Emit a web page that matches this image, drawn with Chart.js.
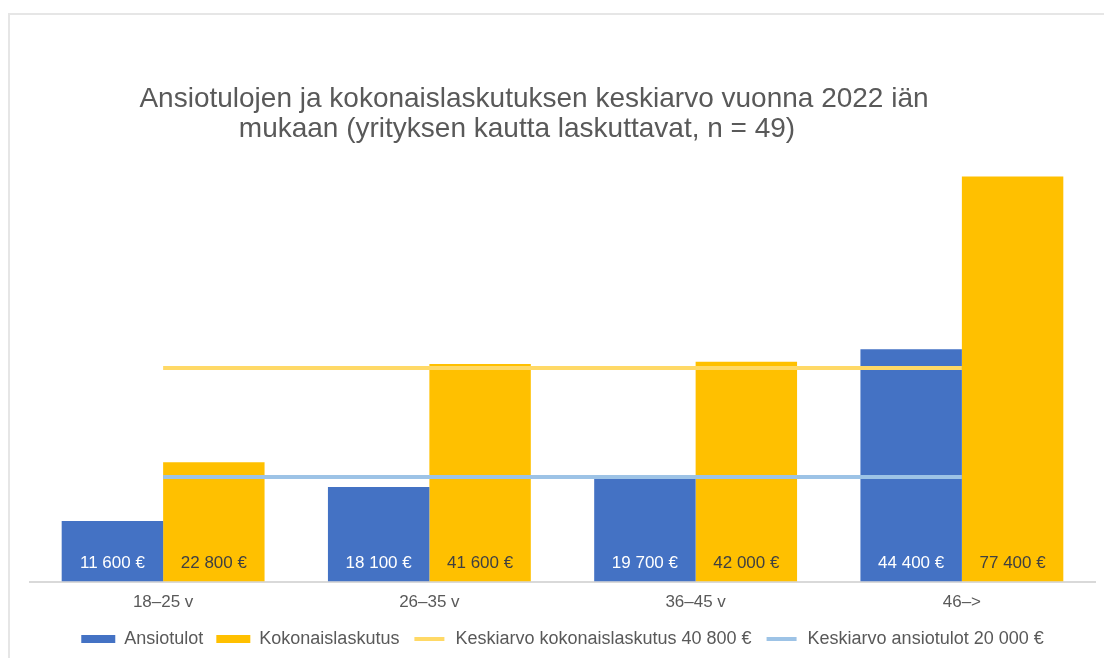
<!DOCTYPE html>
<html>
<head>
<meta charset="utf-8">
<script src="https://cdn.jsdelivr.net/npm/chart.js@4/dist/chart.umd.min.js"></script>
<style>
  html, body { margin: 0; padding: 0; background: #ffffff; }
  #wrap { position: relative; width: 1104px; height: 658px; }
  #frame { position: absolute; left: 8px; top: 13px; right: -4px; bottom: -4px;
           border-top: 2px solid #e6e6e6; border-left: 2px solid #e6e6e6; }
  canvas { position: absolute; left: 0; top: 0; }
</style>
</head>
<body>
<div id="wrap">
  <div id="frame"></div>
  <canvas id="c" width="1104" height="658"></canvas>
</div>
<script>
const titleLines = ["Ansiotulojen ja kokonaislaskutuksen keskiarvo vuonna 2022 iän",
                    "mukaan (yrityksen kautta laskuttavat, n = 49)"];
const categories = ["18–25 v", "26–35 v", "36–45 v", "46–>"];
const ansiotulot = [11600, 18100, 19700, 44400];
const kokonaislaskutus = [22800, 41600, 42000, 77400];
const avgKokonaislaskutus = [40800, 40800, 40800, 40800];
const avgAnsiotulot = [20000, 20000, 20000, 20000];
const seriesNames = ["Ansiotulot", "Kokonaislaskutus",
                     "Keskiarvo kokonaislaskutus 40 800 €", "Keskiarvo ansiotulot 20 000 €"];

const FONT = "'Liberation Sans', Arial, Helvetica, sans-serif";
const fmt = v => v.toLocaleString('fi-FI').replace(/\s/g, ' ') + ' €';

const titlePlugin = {
  id: 'customTitle',
  afterDraw(chart) {
    const ctx = chart.ctx;
    ctx.save();
    ctx.font = "28px " + FONT;
    ctx.fillStyle = '#595959';
    ctx.textAlign = 'center';
    ctx.textBaseline = 'alphabetic';
    ctx.fillText(titleLines[0], 534, 107);
    ctx.fillText(titleLines[1], 517, 137);
    ctx.restore();
  }
};

const labelPlugin = {
  id: 'barLabels',
  afterDatasetsDraw(chart) {
    const ctx = chart.ctx;
    ctx.save();
    ctx.font = "17px " + FONT;
    ctx.textAlign = 'center';
    ctx.textBaseline = 'middle';
    [0, 1].forEach(di => {
      const meta = chart.getDatasetMeta(di);
      const ds = chart.data.datasets[di];
      ctx.fillStyle = di === 0 ? '#ffffff' : '#404040';
      meta.data.forEach((el, i) => {
        ctx.fillText(fmt(ds.data[i]), el.x, el.base - 18);
      });
    });
    ctx.restore();
  }
};

new Chart(document.getElementById('c'), {
  data: {
    labels: categories,
    datasets: [
      { type: 'bar', label: seriesNames[0], data: ansiotulot, backgroundColor: '#4472C4',
        borderWidth: 0, categoryPercentage: 0.762, barPercentage: 1, order: 2 },
      { type: 'bar', label: seriesNames[1], data: kokonaislaskutus, backgroundColor: '#FFC000',
        borderWidth: 0, categoryPercentage: 0.762, barPercentage: 1, order: 2 },
      { type: 'line', label: seriesNames[2], data: avgKokonaislaskutus, borderColor: '#FFD966',
        backgroundColor: '#FFD966', borderWidth: 4, pointRadius: 0, order: 1 },
      { type: 'line', label: seriesNames[3], data: avgAnsiotulot, borderColor: '#9DC3E6',
        backgroundColor: '#9DC3E6', borderWidth: 4, pointRadius: 0, order: 0 }
    ]
  },
  options: {
    responsive: false,
    animation: false,
    layout: { padding: { left: 30, right: 9, top: 163, bottom: 0 } },
    scales: {
      x: {
        grid: { display: false },
        border: { display: true, color: '#d9d9d9', width: 2 },
        ticks: { font: { size: 17, family: FONT }, color: '#595959', padding: 3 },
        afterFit(scale) { scale.height += 1; }
      },
      y: { display: false, min: 0, max: 80000 }
    },
    plugins: {
      title: { display: false },
      tooltip: { enabled: false },
      legend: {
        position: 'bottom',
        labels: {
          font: { size: 18, family: FONT },
          color: '#595959',
          boxWidth: 34,
          boxHeight: 8,
          padding: 13,
          sort: (a, b) => a.datasetIndex - b.datasetIndex,
          generateLabels(chart) {
            const items = Chart.defaults.plugins.legend.labels.generateLabels(chart);
            items.forEach(it => {
              const ds = chart.data.datasets[it.datasetIndex];
              if (ds.type === 'line') {
                it.fillStyle = ds.borderColor;
                it.strokeStyle = '#ffffff';
                it.lineWidth = 4;
              } else {
                it.lineWidth = 0;
              }
            });
            return items;
          }
        }
      }
    }
  },
  plugins: [titlePlugin, labelPlugin]
});
</script>
</body>
</html>
